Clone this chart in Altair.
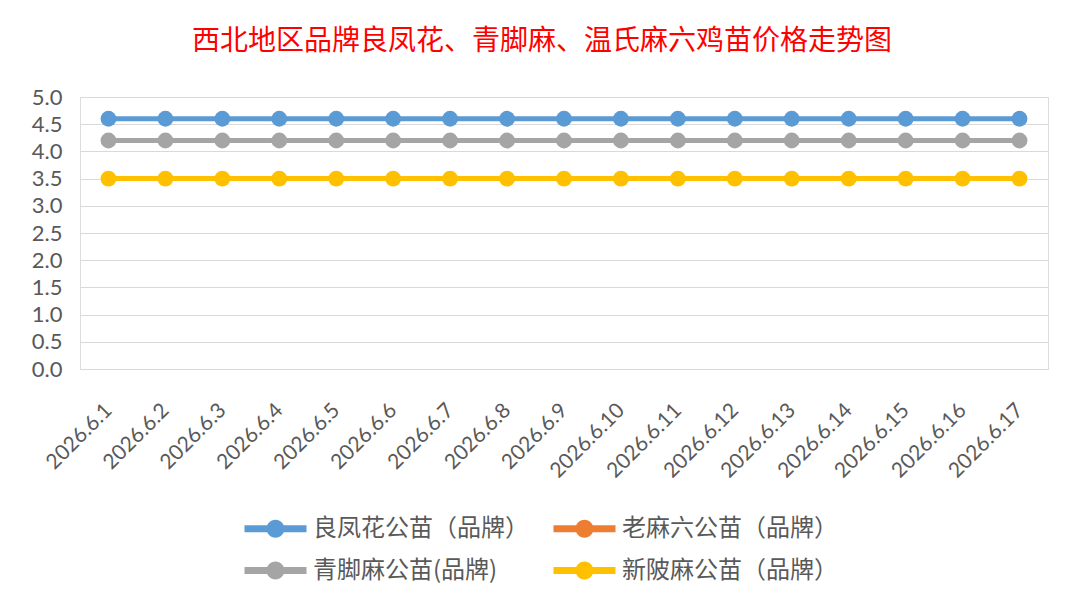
import altair as alt
import pandas as pd

dates = ["2026.6.1", "2026.6.2", "2026.6.3", "2026.6.4", "2026.6.5", "2026.6.6",
         "2026.6.7", "2026.6.8", "2026.6.9", "2026.6.10", "2026.6.11", "2026.6.12",
         "2026.6.13", "2026.6.14", "2026.6.15", "2026.6.16", "2026.6.17"]
# legend order (column-major in a 2-row grid)
series_names = ["良凤花公苗（品牌）", "青脚麻公苗(品牌)", "老麻六公苗（品牌）", "新陂麻公苗（品牌）"]
colors = ["#5B9BD5", "#A5A5A5", "#ED7D31", "#FFC000"]
liangfenghua = [4.6] * 17
qingjiaoma = [4.2] * 17
laomaliu = [None] * 17
xinpima = [3.5] * 17

rows = []
for name, vals in zip(series_names, [liangfenghua, qingjiaoma, laomaliu, xinpima]):
    for d, v in zip(dates, vals):
        rows.append({"date": d, "series": name, "price": v})
df = pd.DataFrame(rows)

legend_path = ("M-2,-0.22 L2,-0.22 L2,0.22 L-2,0.22 Z "
               "M0.58,0 A0.58,0.58 0 1,1 -0.58,0 A0.58,0.58 0 1,1 0.58,0 Z")

x_enc = alt.X("date:N", sort=dates, scale=alt.Scale(type="point", padding=0.5),
              axis=alt.Axis(title=None, labelAngle=-45, labelAlign="right",
                            labelBaseline="middle", labelPadding=38, ticks=False,
                            domain=True, domainColor="#D9D9D9", labelFontSize=21,
                            labelColor="#595959", labelFont="Lato", grid=False))
y_enc = alt.Y("price:Q", scale=alt.Scale(domain=[0, 5]),
              axis=alt.Axis(title=None, values=[0, 0.5, 1, 1.5, 2, 2.5, 3, 3.5, 4, 4.5, 5],
                            format=".1f", ticks=False, domain=False, gridColor="#D9D9D9",
                            labelFontSize=22, labelColor="#595959", labelFont="Lato",
                            labelPadding=18))
legend = alt.Legend(title=None, orient="none", legendX=180, legendY=416,
                    columns=2, symbolType=legend_path, symbolSize=961,
                    symbolStrokeWidth=0, symbolOpacity=1,
                    labelFont="Noto Sans CJK SC", labelFontSize=24,
                    labelColor="#595959", labelOffset=22,
                    rowPadding=14, columnPadding=24, labelLimit=400)
color_enc = alt.Color("series:N", scale=alt.Scale(domain=series_names, range=colors),
                      sort=series_names, legend=legend)

lines = alt.Chart(df).mark_line(strokeWidth=5).encode(
    x=x_enc, y=y_enc, color=color_enc,
)
points = alt.Chart(df).mark_circle(size=250, opacity=1).encode(
    x=x_enc, y=y_enc, color=color_enc,
)

chart = alt.layer(lines, points).properties(
    width=968, height=272,
    title=alt.TitleParams("西北地区品牌良凤花、青脚麻、温氏麻六鸡苗价格走势图",
                          color="#FF0000", font="Noto Sans CJK SC", fontSize=28,
                          fontWeight="normal", anchor="middle", dx=-22, offset=30),
    autosize=alt.AutoSizeParams(type="none"),
    padding={"left": 72, "top": 89, "right": 20, "bottom": 228},
).configure_view(strokeWidth=0).configure(background="white")

chart.save("out.html", embed_options={"renderer": "svg", "actions": False})
